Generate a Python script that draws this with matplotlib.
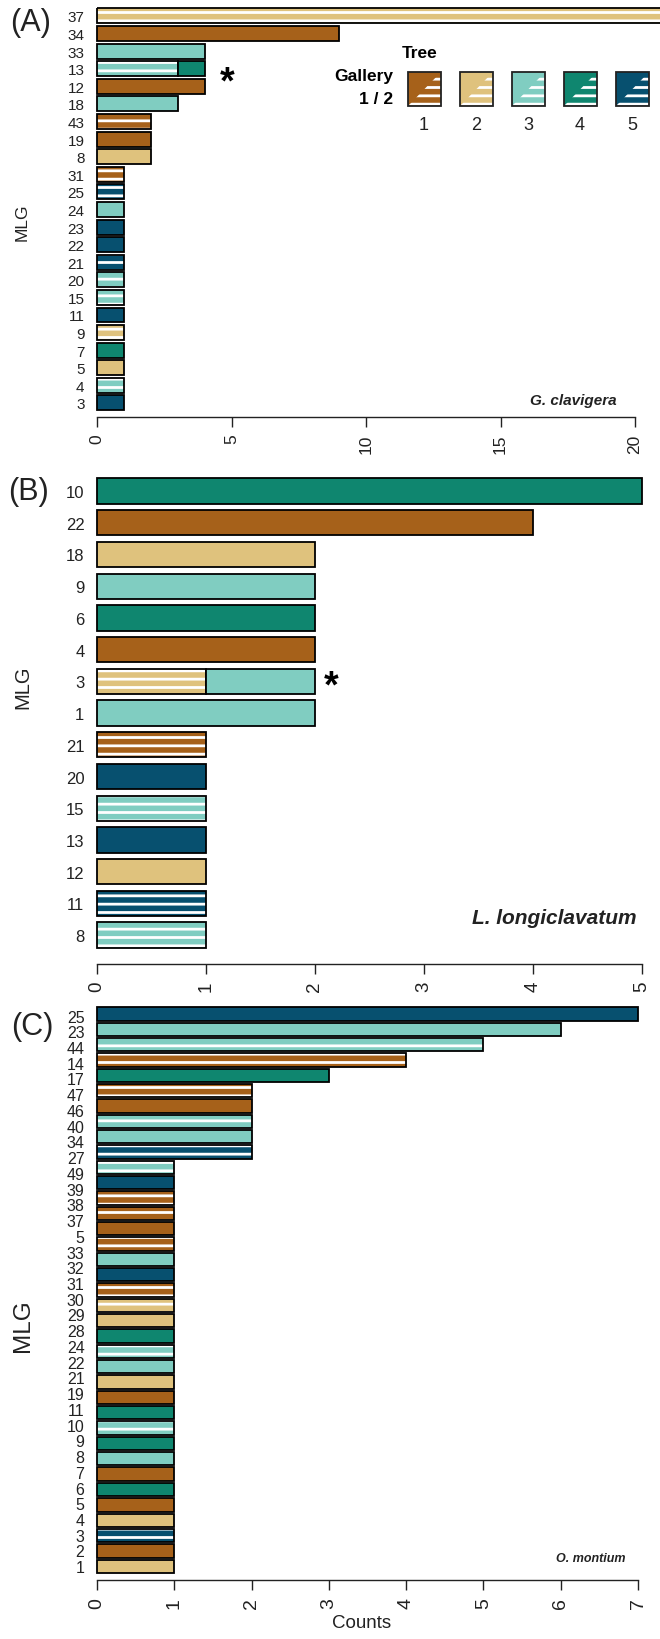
import numpy as np
import matplotlib
matplotlib.use('Agg')
import matplotlib.pyplot as plt
from matplotlib.patches import Rectangle, Polygon

plt.rcParams['font.family'] = ['Liberation Sans', 'DejaVu Sans']
plt.rcParams['hatch.color'] = 'white'
plt.rcParams['hatch.linewidth'] = 2.0

W, H = 660, 1640

TREE_COLORS = {1: '#A6611A', 2: '#DFC27D', 3: '#80CDC1', 4: '#0F866F', 5: '#07506F'}
TREES = [1, 2, 3, 4, 5]

# (A) G. clavigera
a_labels = ['37', '34', '33', '13', '12', '18', '43', '19', '8', '31', '25', '24',
            '23', '22', '21', '20', '15', '11', '9', '7', '5', '4', '3']
a_counts = [22, 9, 4, 3, 4, 3, 2, 2, 2, 1, 1, 1, 1, 1, 1, 1, 1, 1, 1, 1, 1, 1, 1]
a_tree = [2, 1, 3, 3, 1, 3, 1, 1, 2, 1, 5, 3, 5, 5, 5, 3, 3, 5, 2, 4, 2, 3, 5]
a_gallery = [2, 1, 1, 2, 1, 1, 2, 1, 1, 2, 2, 1, 1, 1, 2, 2, 2, 1, 2, 1, 1, 2, 1]
a_counts2 = [0, 0, 0, 1, 0, 0, 0, 0, 0, 0, 0, 0, 0, 0, 0, 0, 0, 0, 0, 0, 0, 0, 0]
a_tree2 = [0, 0, 0, 4, 0, 0, 0, 0, 0, 0, 0, 0, 0, 0, 0, 0, 0, 0, 0, 0, 0, 0, 0]
a_gallery2 = [0, 0, 0, 1, 0, 0, 0, 0, 0, 0, 0, 0, 0, 0, 0, 0, 0, 0, 0, 0, 0, 0, 0]

# (B) L. longiclavatum
b_labels = ['10', '22', '18', '9', '6', '4', '3', '1', '21', '20', '15', '13', '12', '11', '8']
b_counts = [5, 4, 2, 2, 2, 2, 1, 2, 1, 1, 1, 1, 1, 1, 1]
b_tree = [4, 1, 2, 3, 4, 1, 2, 3, 1, 5, 3, 5, 2, 5, 3]
b_gallery = [1, 1, 1, 1, 1, 1, 2, 1, 2, 1, 2, 1, 1, 2, 2]
b_counts2 = [0, 0, 0, 0, 0, 0, 1, 0, 0, 0, 0, 0, 0, 0, 0]
b_tree2 = [0, 0, 0, 0, 0, 0, 3, 0, 0, 0, 0, 0, 0, 0, 0]
b_gallery2 = [0, 0, 0, 0, 0, 0, 1, 0, 0, 0, 0, 0, 0, 0, 0]

# (C) O. montium
c_labels = ['25', '23', '44', '14', '17', '47', '46', '40', '34', '27', '49', '39',
            '38', '37', '5', '33', '32', '31', '30', '29', '28', '24', '22', '21',
            '19', '11', '10', '9', '8', '7', '6', '5', '4', '3', '2', '1']
c_counts = [7, 6, 5, 4, 3, 2, 2, 2, 2, 2,
            1, 1, 1, 1, 1, 1, 1, 1, 1, 1, 1, 1, 1, 1, 1, 1,
            1, 1, 1, 1, 1, 1, 1, 1, 1, 1, 1]
c_tree = [5, 3, 3, 1, 4, 1, 1, 3, 3, 5,
          3, 5, 1, 1, 1, 1, 3, 5, 1, 2, 2, 4, 3, 3, 2, 1,
          4, 3, 4, 3, 1, 4, 1, 2, 5, 1, 2]
c_gallery = [1, 1, 2, 2, 1, 2, 1, 2, 1, 2,
             2, 1, 2, 2, 1, 2, 1, 1, 2, 2, 1, 1, 2, 1, 1, 1,
             1, 2, 1, 1, 1, 1, 1, 1, 2, 1, 1]


def fx(x):
    return x / W


def fy(y):
    return 1 - y / H


def px_axes(fig, left, top, right, bottom):
    return fig.add_axes([left / W, 1 - bottom / H, (right - left) / W, (bottom - top) / H])


def draw_segment(ax, i, count, left, tree, gallery, height):
    hatch = '--' if gallery == 2 else None
    ax.barh(i, count, left=left, height=height, color=TREE_COLORS[tree],
            edgecolor='white', hatch=hatch, linewidth=0, clip_on=False)
    ax.barh(i, count, left=left, height=height, fill=False,
            edgecolor='black', linewidth=1.3, clip_on=False)


def draw_panel(ax, counts, trees, galleries, height, counts2=None, trees2=None, galleries2=None):
    for i in range(len(counts)):
        draw_segment(ax, i, counts[i], 0, trees[i], galleries[i], height)
        if counts2 is not None and counts2[i] > 0:
            draw_segment(ax, i, counts2[i], counts[i], trees2[i], galleries2[i], height)


def style(ax, xmax, xticks, ybottom, labels, label_pos, ysize, xsize):
    ax.set_xlim(0, xmax)
    ax.set_ylim(ybottom, -0.6)
    for s in ['top', 'right', 'left']:
        ax.spines[s].set_visible(False)
    ax.spines['bottom'].set_linewidth(1.0)
    ax.spines['bottom'].set_color('#222222')
    ax.set_xticks(xticks)
    ax.set_xticklabels([str(v) for v in xticks], rotation=90, fontsize=xsize, color='#222222')
    ax.tick_params(axis='x', length=7, width=1, direction='out', pad=5, color='#222222')
    ax.set_yticks(label_pos)
    ax.set_yticklabels(labels, fontsize=ysize, color='#222222')
    ax.tick_params(axis='y', length=0, pad=9)
    ax.patch.set_visible(False)


fig = plt.figure(figsize=(6.6, 16.4), dpi=100)

# panel A
axA = px_axes(fig, 97, 6.4, 635, 418)
draw_panel(axA, a_counts, a_tree, a_gallery, 0.85, a_counts2, a_tree2, a_gallery2)
style(axA, 20, [0, 5, 10, 15, 20], 22.8, a_labels, np.arange(len(a_labels)), 11, 12.5)
star_a = int(np.argmax(np.array(a_counts2) > 0))
axA.annotate('*', xy=(a_counts[star_a] + a_counts2[star_a], star_a), xytext=(11, -10),
             textcoords='offset points', ha='left', va='center', fontsize=27, fontweight='bold')

# panel B
axB = px_axes(fig, 97, 473, 642, 965)
draw_panel(axB, b_counts, b_tree, b_gallery, 0.8, b_counts2, b_tree2, b_gallery2)
style(axB, 5, [0, 1, 2, 3, 4, 5], 14.91, b_labels, np.arange(len(b_labels)), 12, 13.5)
star_b = int(np.argmax(np.array(b_counts2) > 0))
axB.annotate('*', xy=(b_counts[star_b] + b_counts2[star_b], star_b), xytext=(6, -4),
             textcoords='offset points', ha='left', va='center', fontsize=27, fontweight='bold')

# panel C
axC = px_axes(fig, 97, 1005.8, 638, 1581)
draw_panel(axC, c_counts, c_tree, c_gallery, 0.87)
style(axC, 7, [0, 1, 2, 3, 4, 5, 6, 7], 36.9, c_labels,
      np.linspace(0.1, len(c_counts) - 1, len(c_labels)), 11.5, 14)

# panel letters, axis titles, species
for txt, x, y in [('(A)', 31, 23), ('(B)', 28, 492), ('(C)', 32, 1027)]:
    fig.text(fx(x), fy(y), txt, fontsize=22, ha='center', va='center', color='#222222')
for x, y, s in [(22, 222, 12.5), (23, 687, 14.5), (23, 1326, 17.5)]:
    fig.text(fx(x), fy(y), 'MLG', fontsize=s, rotation=90, ha='center', va='center', color='#222222')
for txt, x, y, s in [('G. clavigera', 617, 401, 11), ('L. longiclavatum', 636, 918, 15),
                     ('O. montium', 626, 1559, 9)]:
    fig.text(fx(x), fy(y), txt, fontsize=s, fontweight='bold', fontstyle='italic',
             ha='right', va='center', color='#222222')
fig.text(fx(362), fy(1624), 'Counts', fontsize=13.5, ha='center', va='center', color='#222222')

# legend: tree colour, gallery 1 solid / gallery 2 striped
lax = px_axes(fig, 300, 30, 660, 140)
lax.set_xlim(300, 660)
lax.set_ylim(140, 30)
lax.axis('off')
lax.text(420, 53, 'Tree', fontsize=12.5, fontweight='bold', ha='center', va='center')
lax.text(393, 77, 'Gallery', fontsize=12.5, fontweight='bold', ha='right', va='center')
lax.text(393, 100, '1 / 2', fontsize=12.5, fontweight='bold', ha='right', va='center')
for k, t in enumerate(TREES):
    cx = 424 + k * 52
    x0, x1, y0, y1 = cx - 16.5, cx + 16.5, 73, 107
    lax.add_patch(Rectangle((x0, y0), 33, 34, facecolor=TREE_COLORS[t], edgecolor='none'))
    lax.add_patch(Polygon([(x0, y1), (x1, y1), (x1, y0)], closed=True, facecolor=TREE_COLORS[t],
                          edgecolor='white', hatch='--', linewidth=0))
    lax.add_patch(Rectangle((x0, y0), 33, 34, fill=False, edgecolor='#222222', linewidth=1.3))
    lax.text(cx, 125, str(t), fontsize=13, ha='center', va='center', color='#222222')

fig.savefig('out.png', dpi=100)
